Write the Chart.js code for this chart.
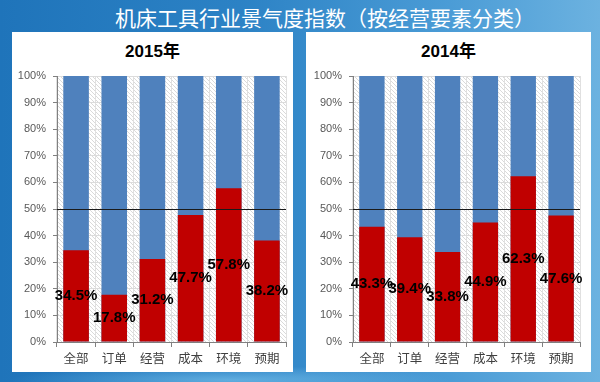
<!DOCTYPE html>
<html>
<head>
<meta charset="utf-8">
<script src="https://cdn.jsdelivr.net/npm/chart.js@4"></script>
<style>
  html, body { margin:0; padding:0; }
  body {
    width:600px; height:382px; overflow:hidden; position:relative;
    background:
      radial-gradient(ellipse 220px 14px at 230px 380px, rgba(140,210,245,0.55), rgba(140,210,245,0) 100%),
      linear-gradient(to right, #1f74ba 0%, #2c82c5 40%, #4b9cd6 75%, #6cb2e0 100%);
  }
  #title {
    position:absolute; left:50px; top:0; width:550px; height:34px; line-height:34px;
    text-align:center; color:#fff; font-family:"Noto Sans CJK SC", sans-serif; font-size:21px; font-weight:normal;
  }
  .panel { position:absolute; top:32px; height:340px; background:#fff; }
  .ptitle {
    position:absolute; left:0; right:0; top:9px; height:22px; line-height:22px; text-align:center;
    font-family:"Liberation Sans","Noto Sans CJK SC",sans-serif; font-weight:bold; font-size:17px; color:#000;
  }
  canvas { position:absolute; left:0; top:0; }
</style>
</head>
<body>
<div id="title">机床工具行业景气度指数（按经营要素分类）</div>
<div class="panel" id="p1" style="left:12px;width:281px;">
  <div class="ptitle">2015年</div>
  <canvas id="c1" width="281" height="340"></canvas>
</div>
<div class="panel" id="p2" style="left:306px;width:285px;">
  <div class="ptitle">2014年</div>
  <canvas id="c2" width="285" height="340"></canvas>
</div>
<script>
const CATEGORIES = ['全部', '订单', '经营', '成本', '环境', '预期'];
const VALUES_2015 = [34.5, 17.8, 31.2, 47.7, 57.8, 38.2];
const VALUES_2014 = [43.3, 39.4, 33.8, 44.9, 62.3, 47.6];
const TOTAL = [100, 100, 100, 100, 100, 100];
const Y_TICK_STEP = 10;
const REF_LINE = 50;

function makePattern() {
  const c = document.createElement('canvas');
  c.width = 4; c.height = 4;
  const g = c.getContext('2d');
  g.fillStyle = '#ffffff'; g.fillRect(0, 0, 4, 4);
  g.strokeStyle = '#dadada'; g.lineWidth = 1;
  g.beginPath();
  g.moveTo(-1, -1); g.lineTo(5, 5);
  g.moveTo(-1, 3); g.lineTo(1, 5);
  g.moveTo(3, -1); g.lineTo(5, 1);
  g.stroke();
  return g.createPattern(c, 'repeat');
}

const hatchPlugin = {
  id: 'hatch',
  beforeDraw(chart) {
    const {ctx, chartArea: a} = chart;
    ctx.save();
    ctx.fillStyle = makePattern();
    ctx.fillRect(a.left, a.top, a.right - a.left, a.bottom - a.top);
    ctx.restore();
  }
};

const refLinePlugin = {
  id: 'refLine',
  afterDatasetsDraw(chart) {
    const {ctx, chartArea: a, scales} = chart;
    const y = Math.round(scales.y.getPixelForValue(REF_LINE)) + 0.5;
    ctx.save();
    ctx.strokeStyle = '#1a1a1a'; ctx.lineWidth = 1;
    ctx.beginPath(); ctx.moveTo(a.left, y); ctx.lineTo(a.right, y); ctx.stroke();
    ctx.restore();
  }
};

const labelPlugin = {
  id: 'valLabels',
  afterDatasetsDraw(chart) {
    const {ctx} = chart;
    const meta = chart.getDatasetMeta(0);
    const data = chart.data.datasets[0].data;
    ctx.save();
    ctx.fillStyle = '#000';
    ctx.font = 'bold 15px "Liberation Sans", sans-serif';
    ctx.textAlign = 'center'; ctx.textBaseline = 'middle';
    meta.data.forEach((el, i) => {
      const p = el.getProps(['x', 'y', 'base'], true);
      ctx.fillText(data[i].toFixed(1) + '%', p.x, (p.y + p.base) / 2);
    });
    ctx.restore();
  }
};

function makeChart(id, values, yWidth, rightPad) {
  return new Chart(document.getElementById(id), {
    type: 'bar',
    data: {
      labels: CATEGORIES,
      datasets: [
        { data: values, backgroundColor: '#C00000', order: 0, grouped: false,
          categoryPercentage: 1, barPercentage: 0.67 },
        { data: TOTAL, backgroundColor: '#4F81BD', order: 1, grouped: false,
          categoryPercentage: 1, barPercentage: 0.67 }
      ]
    },
    options: {
      responsive: false, animation: false,
      layout: { padding: { top: 44, right: rightPad, bottom: 0, left: 0 } },
      plugins: { legend: { display: false }, tooltip: { enabled: false } },
      scales: {
        x: {
          grid: { display: true, offset: true, color: '#e0e0e0', tickColor: '#808080', tickLength: 5 },
          border: { color: '#808080' },
          ticks: { color: '#404040', padding: 4, font: { family: '"Noto Sans CJK SC", sans-serif', size: 12.5 } },
          afterFit(s) { s.height = 30; }
        },
        y: {
          min: 0, max: 100,
          grid: { color: '#dcdcdc', tickColor: '#808080', tickLength: 4 },
          border: { color: '#808080' },
          ticks: { stepSize: Y_TICK_STEP, color: '#595959', padding: 7,
                   font: { family: '"Liberation Sans", sans-serif', size: 11 },
                   callback: v => v + '%' },
          afterFit(s) { s.width = yWidth; }
        }
      }
    },
    plugins: [hatchPlugin, refLinePlugin, labelPlugin]
  });
}

makeChart('c1', VALUES_2015, 45, 7);
makeChart('c2', VALUES_2014, 47, 11);
</script>
</body>
</html>
